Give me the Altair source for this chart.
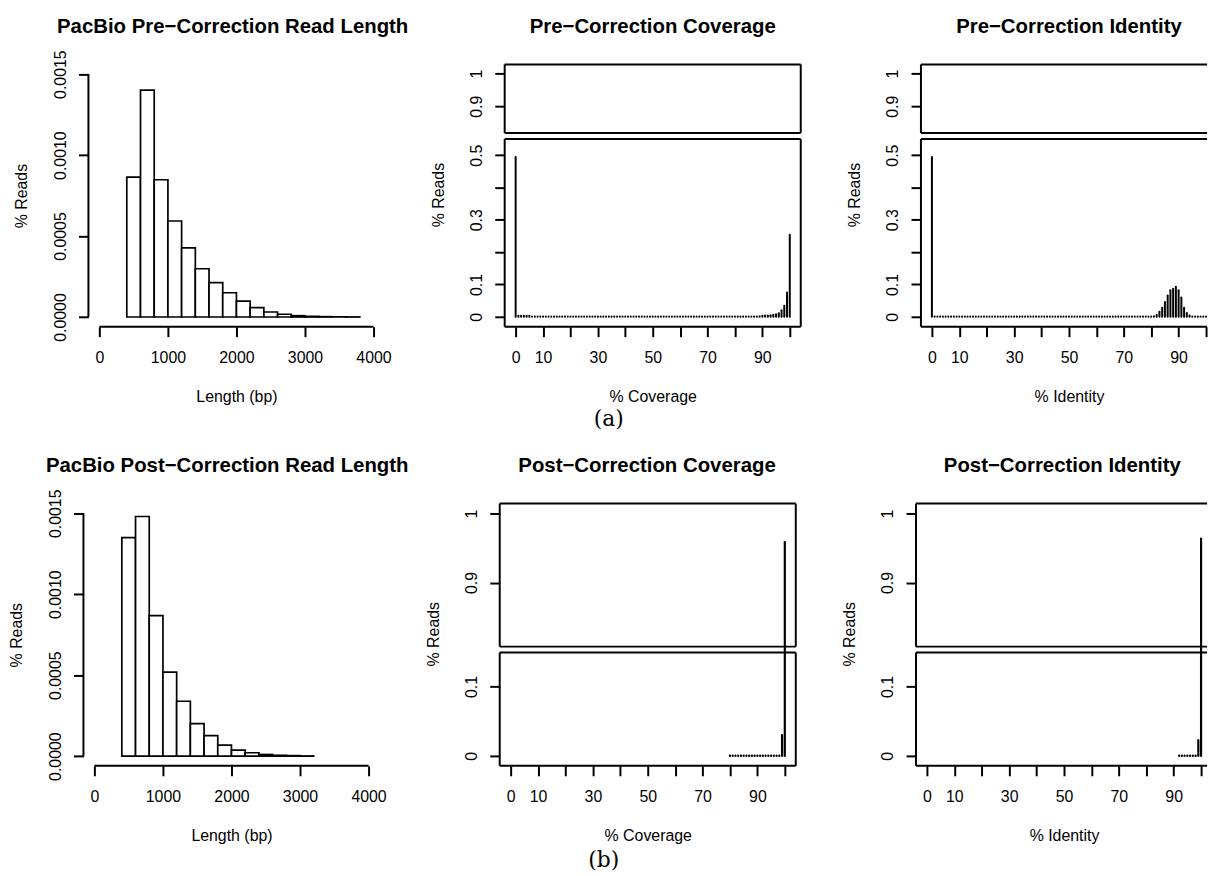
import altair as alt
import pandas as pd

FONT = "Liberation Sans"
MINUS = "\u2212"

# ---------------- data ----------------
# Read-length histograms (bin edges in bp, density per bin)
pre_len_edges = [400, 600, 800, 1000, 1200, 1400, 1600, 1800, 2000, 2200,
                 2400, 2600, 2800, 3000, 3200, 3400, 3600, 3800]
pre_len_density = [0.000864, 0.001401, 0.000848, 0.000593, 0.000427, 0.000298,
                   0.000212, 0.000150, 0.0000985, 0.000058, 0.000031, 0.000017,
                   0.000008, 0.000004, 0.000002, 0.000001, 0.0000005]
post_len_edges = [400, 600, 800, 1000, 1200, 1400, 1600, 1800, 2000, 2200,
                  2400, 2600, 2800, 3000, 3200]
post_len_density = [0.00135, 0.00148, 0.000868, 0.000519, 0.000339, 0.000201,
                    0.000127, 0.0000677, 0.000037, 0.000021, 0.00001, 0.000005,
                    0.000003, 0.000001]

# Pre-correction coverage / identity (percent 0..100, fraction of reads)
pre_pct = list(range(0, 101))
pre_cov_reads = [
    0.494,
    0.003, 0.003, 0.003, 0.003, 0.003, 0.001, 0.001, 0.001, 0.001, 0.001,   # 1-10
    0.001, 0.001, 0.001, 0.001, 0.001, 0.001, 0.001, 0.001, 0.001, 0.001,   # 11-20
    0.001, 0.001, 0.001, 0.001, 0.001, 0.001, 0.001, 0.001, 0.001, 0.001,   # 21-30
    0.001, 0.001, 0.001, 0.001, 0.001, 0.001, 0.001, 0.001, 0.001, 0.001,   # 31-40
    0.001, 0.001, 0.001, 0.001, 0.001, 0.001, 0.001, 0.001, 0.001, 0.001,   # 41-50
    0.001, 0.001, 0.001, 0.001, 0.001, 0.001, 0.001, 0.001, 0.001, 0.001,   # 51-60
    0.001, 0.001, 0.001, 0.001, 0.001, 0.001, 0.001, 0.001, 0.001, 0.001,   # 61-70
    0.001, 0.001, 0.001, 0.001, 0.001, 0.001, 0.001, 0.001, 0.001, 0.001,   # 71-80
    0.001, 0.001, 0.001, 0.001, 0.001, 0.001, 0.001, 0.001, 0.002,          # 81-89
    0.003, 0.004, 0.004, 0.005, 0.006, 0.008, 0.011, 0.020, 0.034, 0.075,   # 90-99
    0.254,                                                                  # 100
]
pre_id_reads = [
    0.494,
    0.001, 0.001, 0.001, 0.001, 0.001, 0.001, 0.001, 0.001, 0.001, 0.001,   # 1-10
    0.001, 0.001, 0.001, 0.001, 0.001, 0.001, 0.001, 0.001, 0.001, 0.001,   # 11-20
    0.001, 0.001, 0.001, 0.001, 0.001, 0.001, 0.001, 0.001, 0.001, 0.001,   # 21-30
    0.001, 0.001, 0.001, 0.001, 0.001, 0.001, 0.001, 0.001, 0.001, 0.001,   # 31-40
    0.001, 0.001, 0.001, 0.001, 0.001, 0.001, 0.001, 0.001, 0.001, 0.001,   # 41-50
    0.001, 0.001, 0.001, 0.001, 0.001, 0.001, 0.001, 0.001, 0.001, 0.001,   # 51-60
    0.001, 0.001, 0.001, 0.001, 0.001, 0.001, 0.001, 0.001, 0.001, 0.001,   # 61-70
    0.001, 0.001, 0.001, 0.001, 0.001, 0.001, 0.001, 0.001, 0.001, 0.001,   # 71-80
    0.002, 0.006, 0.016, 0.028, 0.046, 0.066, 0.082, 0.087, 0.093, 0.082,   # 81-90
    0.060, 0.028, 0.012, 0.004, 0.001, 0.001, 0.001, 0.001, 0.001, 0.001,   # 91-100
]

# Post-correction coverage / identity
post_cov_pct = [80, 81, 82, 83, 84, 85, 86, 87, 88, 89, 90,
                91, 92, 93, 94, 95, 96, 97, 98, 99, 100]
post_cov_reads = [0.0005, 0.0005, 0.0005, 0.0005, 0.0005, 0.0005, 0.0005,
                  0.0005, 0.0005, 0.0005, 0.0005, 0.0005, 0.0005, 0.0005,
                  0.0005, 0.0005, 0.0005, 0.0005, 0.0005, 0.030, 0.960]
post_id_pct = [92, 93, 94, 95, 96, 97, 98, 99, 100]
post_id_reads = [0.0005, 0.0005, 0.0005, 0.0005, 0.0005, 0.0005, 0.0005,
                 0.023, 0.965]

pct_ticks = [0, 10, 20, 30, 40, 50, 60, 70, 80, 90, 100]
len_ticks = [0, 1000, 2000, 3000, 4000]
dens_ticks = [0, 0.0005, 0.001, 0.0015]

W = 298      # full plot-region width
H = 264      # plot-region height
GAP = 6      # gap between the two boxes of a gap plot
W_ID = 290   # identity panels are cut by the right edge of the figure
TOP = 62     # margin above each plot region (titles are placed from it)
TITLE_OFFSET = -35
ONE = pd.DataFrame({"k": [0]})


def margin_marker(left):
    # invisible marker: fixes the top margin (and, for the first panel, the left margin)
    return alt.Chart(ONE).mark_rule(color="white", strokeOpacity=0, strokeWidth=1).encode(
        x=alt.value(left), x2=alt.value(left + 8), y=alt.value(-TOP))


def hist_panel(edges, dens, title, title_dx, shift, left_marker):
    df = pd.DataFrame({"start": edges[:-1], "end": edges[1:], "density": dens})
    x = alt.X("start:Q",
              scale=alt.Scale(domain=[-160, 4160], range=[shift, shift + W], nice=False, zero=False),
              axis=alt.Axis(values=len_ticks, format="d", title="Length (bp)",
                            titleX=W / 2 + shift, titleY=75))
    y = alt.Y("density:Q",
              scale=alt.Scale(domain=[-0.00006, 0.00156], nice=False, zero=False),
              axis=alt.Axis(values=dens_ticks, format=".4f", title="% Reads",
                            titleY=H / 2, offset=-shift))
    bars = alt.Chart(df).mark_rect(fill="white", stroke="black", strokeWidth=1.7).encode(
        x=x, x2="end:Q", y=y, y2=alt.datum(0))
    xline = alt.Chart(ONE).mark_rule(color="black", strokeWidth=2).encode(
        x=alt.datum(len_ticks[0]), x2=alt.datum(len_ticks[-1]), y=alt.value(H))
    yline = alt.Chart(ONE).mark_rule(color="black", strokeWidth=2).encode(
        x=alt.value(shift), y=alt.datum(dens_ticks[0]), y2=alt.datum(dens_ticks[-1]))
    return alt.layer(bars, xline, yline, margin_marker(left_marker)).properties(
        width=W, height=H,
        title=alt.TitleParams(title, offset=TITLE_OFFSET, dx=title_dx))


def frame_rules(x0, x1, t, b, right):
    base = alt.Chart(ONE).mark_rule(color="black", strokeWidth=2)
    out = [
        base.encode(x=alt.value(x0), y=alt.value(t), y2=alt.value(b)),
        base.encode(x=alt.value(x0), x2=alt.value(x1), y=alt.value(t)),
        base.encode(x=alt.value(x0), x2=alt.value(x1), y=alt.value(b)),
    ]
    if right:
        out.append(base.encode(x=alt.value(x1), y=alt.value(t), y2=alt.value(b)))
    return out


def gap_panel(pct, reads, title, xtitle, w, up_dom, up_h, up_vals,
              lo_dom, lo_h, lo_vals, sw, boxed, title_dx, shift,
              caption, cap_x, cap_y):
    df = pd.DataFrame({"pct": pct, "reads": reads})
    xs = alt.Scale(domain=[-4, 104], range=[shift, shift + W], nice=False, zero=False)
    ys_up = alt.Scale(domain=up_dom, range=[up_h, 0], nice=False, zero=False, clamp=True)
    # lower scale reaches into the gap so that tall spikes cross it, like the original
    lo_top = lo_dom[1] + GAP * (lo_dom[1] - lo_dom[0]) / lo_h
    ys_lo = alt.Scale(domain=[lo_dom[0], lo_top], range=[H, H - lo_h - GAP],
                      nice=False, zero=False, clamp=True)
    hide_x = "indexof([20, 40, 60, 80, 100], datum.value) >= 0 ? '' : datum.label"
    hide_y = "indexof([0.2, 0.4], datum.value) >= 0 ? '' : datum.label"
    xaxis = alt.Axis(values=pct_ticks, format="d", labelExpr=hide_x,
                     title=xtitle, titleX=W / 2 + shift, titleY=75)

    up = alt.Chart(df).transform_filter(alt.datum.reads > up_dom[0]).mark_rule(
        color="black", strokeWidth=sw, strokeCap="butt").encode(
        x=alt.X("pct:Q", scale=xs, axis=xaxis),
        y=alt.Y("reads:Q", scale=ys_up,
                axis=alt.Axis(values=up_vals, format="~g", title=None, orient="left",
                              offset=-shift)),
        y2=alt.datum(0))
    lo = alt.Chart(df).mark_rule(color="black", strokeWidth=sw, strokeCap="round").encode(
        x=alt.X("pct:Q", scale=xs, axis=xaxis),
        y=alt.Y("reads:Q", scale=ys_lo,
                axis=alt.Axis(values=lo_vals, format="~g", labelExpr=hide_y,
                              title="% Reads", titleY=131, orient="left", offset=-shift)),
        y2=alt.datum(0))

    x1 = shift + W if boxed else w - 2
    frames = frame_rules(shift, x1, 0, up_h, boxed) + frame_rules(shift, x1, H - lo_h, H, boxed)
    layers = [up, lo] + frames + [margin_marker(0)]
    if caption:
        cap = alt.Chart(pd.DataFrame({"caption": [caption]})).mark_text(
            font="DejaVu Serif", fontSize=22, align="center", baseline="alphabetic",
            color="black").encode(x=alt.value(cap_x), y=alt.value(cap_y), text="caption:N")
        layers.append(cap)
    return alt.layer(*layers).resolve_scale(y="independent").resolve_axis(
        y="independent").properties(
        width=w, height=H, title=alt.TitleParams(title, offset=TITLE_OFFSET, dx=title_dx))


# ---- top row (a) ----
hist_pre = hist_panel(pre_len_edges, pre_len_density,
                      f"PacBio Pre{MINUS}Correction Read Length", -3.8, 0, -88.5)
cov_pre = gap_panel(pre_pct, pre_cov_reads, f"Pre{MINUS}Correction Coverage", "% Coverage",
                    W, [0.818, 1.0284], 69, [0.9, 1],
                    [-0.0307, 0.550], 189, [0, 0.1, 0.2, 0.3, 0.4, 0.5],
                    2, True, 0, 0, "(a)", 104.8, 363.6)
id_pre = gap_panel(pre_pct, pre_id_reads, f"Pre{MINUS}Correction Identity", "% Identity",
                   W_ID, [0.818, 1.0284], 69, [0.9, 1],
                   [-0.0307, 0.550], 189, [0, 0.1, 0.2, 0.3, 0.4, 0.5],
                   2, False, 149 - W_ID / 2, 0, None, 0, 0)

# ---- bottom row (b): shifted 5 px to the left ----
hist_post = hist_panel(post_len_edges, post_len_density,
                       f"PacBio Post{MINUS}Correction Read Length", -9.3, -5, 0)
cov_post = gap_panel(post_cov_pct, post_cov_reads, f"Post{MINUS}Correction Coverage", "% Coverage",
                     W, [0.8072, 1.0144], 144, [0.9, 1],
                     [-0.0143, 0.149], 114, [0, 0.1],
                     2.2, True, -5.7, -5, "(b)", 99.8, 365.5)
id_post = gap_panel(post_id_pct, post_id_reads, f"Post{MINUS}Correction Identity", "% Identity",
                    W_ID, [0.8072, 1.0144], 144, [0.9, 1],
                    [-0.0143, 0.149], 114, [0, 0.1],
                    2.2, False, 142.3 - W_ID / 2, -5, None, 0, 0)

chart = alt.concat(hist_pre, cov_pre, id_pre, hist_post, cov_post, id_post,
                   columns=3, spacing={"row": 178, "column": 121}, bounds="flush").properties(
    padding={"left": 0, "top": 0, "right": 0, "bottom": 0},
    background="white",
).configure_view(stroke=None).configure_axis(
    domain=False, grid=False, tickSize=10, tickWidth=2, tickColor="black",
    labelColor="black", labelFont=FONT, labelFontSize=16,
    titleFont=FONT, titleFontSize=16, titleFontWeight="normal", titleColor="black",
    labelOverlap=False, labelFlush=False,
).configure_axisY(
    labelAngle=270, labelAlign="center", labelBaseline="alphabetic", labelPadding=13.4,
    titleAngle=270, titleAlign="center", titleBaseline="alphabetic", titleX=-62,
).configure_axisX(
    labelBaseline="alphabetic", labelPadding=25.7, titleBaseline="alphabetic", titleAlign="center",
).configure_title(
    font=FONT, fontSize=20.5, fontWeight="bold", color="black", anchor="middle",
    frame="group", baseline="alphabetic",
)

chart.save("out.html", embed_options={"renderer": "svg", "actions": False})
